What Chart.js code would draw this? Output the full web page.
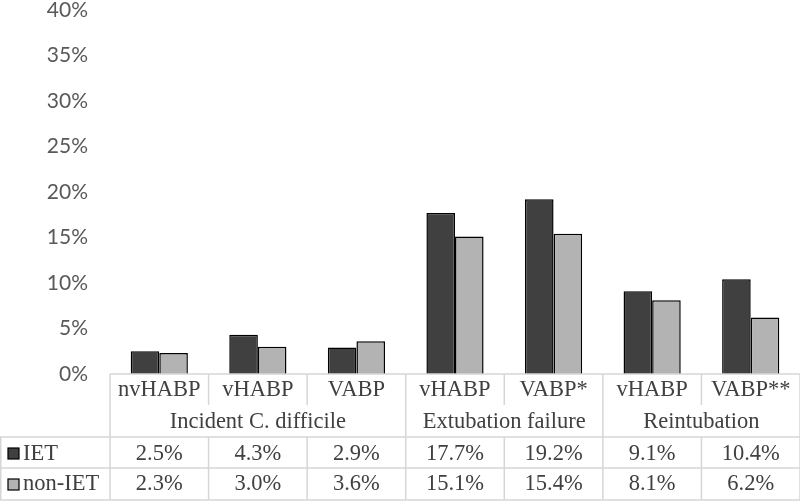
<!DOCTYPE html>
<html>
<head>
<meta charset="utf-8">
<script src="https://cdn.jsdelivr.net/npm/chart.js@4/dist/chart.umd.min.js"></script>
<style>
  html, body { margin: 0; padding: 0; background: #fff; }
  #wrap { width: 800px; height: 504px; }
</style>
</head>
<body>
<div id="wrap"><canvas id="chart" width="800" height="504"></canvas></div>
<script>
// ----- DATA -----
const categories = ['nvHABP', 'vHABP', 'VABP', 'vHABP', 'VABP*', 'vHABP', 'VABP**'];
const groups = ['Incident C. difficile', 'Extubation failure', 'Reintubation'];
const groupSpans = [3, 2, 2];
const seriesNames = ['IET', 'non-IET'];
const ietValues = [2.5, 4.3, 2.9, 17.7, 19.2, 9.1, 10.4];
const nonIetValues = [2.3, 3.0, 3.6, 15.1, 15.4, 8.1, 6.2];
const yMax = 40;
const yStep = 5;

const colors = ['#404040', '#b3b3b3'];
const tableFont = '22.5px "Liberation Serif", "DejaVu Serif", serif';
const lineColor = '#d6d6d6';
const textColor = '#404040';

// ----- DATA TABLE UNDER THE PLOT -----
const tablePlugin = {
  id: 'dataTable',
  afterDraw(chart) {
    const ctx = chart.ctx;
    const a = chart.chartArea;
    const xs = chart.scales.x;
    const colW = a.width / categories.length;
    const edge = i => xs.getPixelForValue(i) - colW / 2;
    const top = a.bottom;
    const rowCat = top + 34, rowGrp = rowCat + 29, rowA = rowGrp + 31, rowB = rowA + 32;

    ctx.save();
    ctx.strokeStyle = lineColor;
    ctx.lineWidth = 1.5;
    const line = (x1, y1, x2, y2) => {
      ctx.beginPath(); ctx.moveTo(x1, y1); ctx.lineTo(x2, y2); ctx.stroke();
    };

    // horizontal lines
    line(edge(0), top, edge(categories.length), top);
    line(0, rowGrp, edge(categories.length), rowGrp);
    line(0, rowA, edge(categories.length), rowA);
    line(0, rowB, edge(categories.length), rowB);

    // vertical lines
    let acc = 0;
    const groupEdges = [0];
    groupSpans.forEach(s => { acc += s; groupEdges.push(acc); });
    for (let i = 0; i <= categories.length; i++) {
      const x = edge(i);
      if (groupEdges.includes(i)) line(x, top, x, rowB);
      else { line(x, top, x, rowCat - 3); line(x, rowGrp, x, rowB); }
    }
    line(0.75, rowGrp, 0.75, rowB);

    // legend keys (squares)
    ctx.strokeStyle = '#000';
    ctx.lineWidth = 1.2;
    [rowGrp, rowA].forEach((y, k) => {
      ctx.fillStyle = colors[k];
      ctx.fillRect(8, y + 11, 11, 11);
      ctx.strokeRect(8, y + 11, 11, 11);
    });

    ctx.fillStyle = textColor;
    ctx.font = tableFont;
    ctx.textAlign = 'center';
    ctx.textBaseline = 'middle';

    categories.forEach((c, i) => ctx.fillText(c, xs.getPixelForValue(i), top + 16));
    groups.forEach((name, k) => {
      const cx = (edge(groupEdges[k]) + edge(groupEdges[k + 1])) / 2;
      ctx.fillText(name, cx, rowCat + 14);
    });
    ietValues.forEach((v, i) => ctx.fillText(v.toFixed(1) + '%', xs.getPixelForValue(i), rowGrp + 17));
    nonIetValues.forEach((v, i) => ctx.fillText(v.toFixed(1) + '%', xs.getPixelForValue(i), rowA + 16));

    // legend labels
    ctx.textAlign = 'left';
    ctx.fillText(seriesNames[0], 23, rowGrp + 17);
    ctx.fillText(seriesNames[1], 23, rowA + 16);
    ctx.restore();
  }
};

new Chart(document.getElementById('chart').getContext('2d'), {
  type: 'bar',
  data: {
    labels: categories,
    datasets: [
      { label: seriesNames[0], data: ietValues, backgroundColor: colors[0], borderColor: '#000', borderWidth: 1.5 },
      { label: seriesNames[1], data: nonIetValues, backgroundColor: colors[1], borderColor: '#000', borderWidth: 1.5 }
    ]
  },
  options: {
    responsive: false,
    animation: false,
    layout: { padding: { top: 10, bottom: 130, left: 0, right: 0 } },
    datasets: { bar: { categoryPercentage: 0.58, barPercentage: 1.0 } },
    scales: {
      x: { display: false },
      y: {
        min: 0,
        max: yMax,
        afterFit(scale) { scale.width = 110; scale.paddingTop = 0; scale.paddingBottom = 0; },
        ticks: {
          stepSize: yStep,
          padding: 14,
          color: '#595959',
          font: { family: 'Lato, "Open Sans", sans-serif', size: 21 },
          callback: v => v + '%'
        },
        grid: { display: false },
        border: { display: false }
      }
    },
    plugins: {
      legend: { display: false },
      tooltip: { enabled: false }
    }
  },
  plugins: [tablePlugin]
});
</script>
</body>
</html>
